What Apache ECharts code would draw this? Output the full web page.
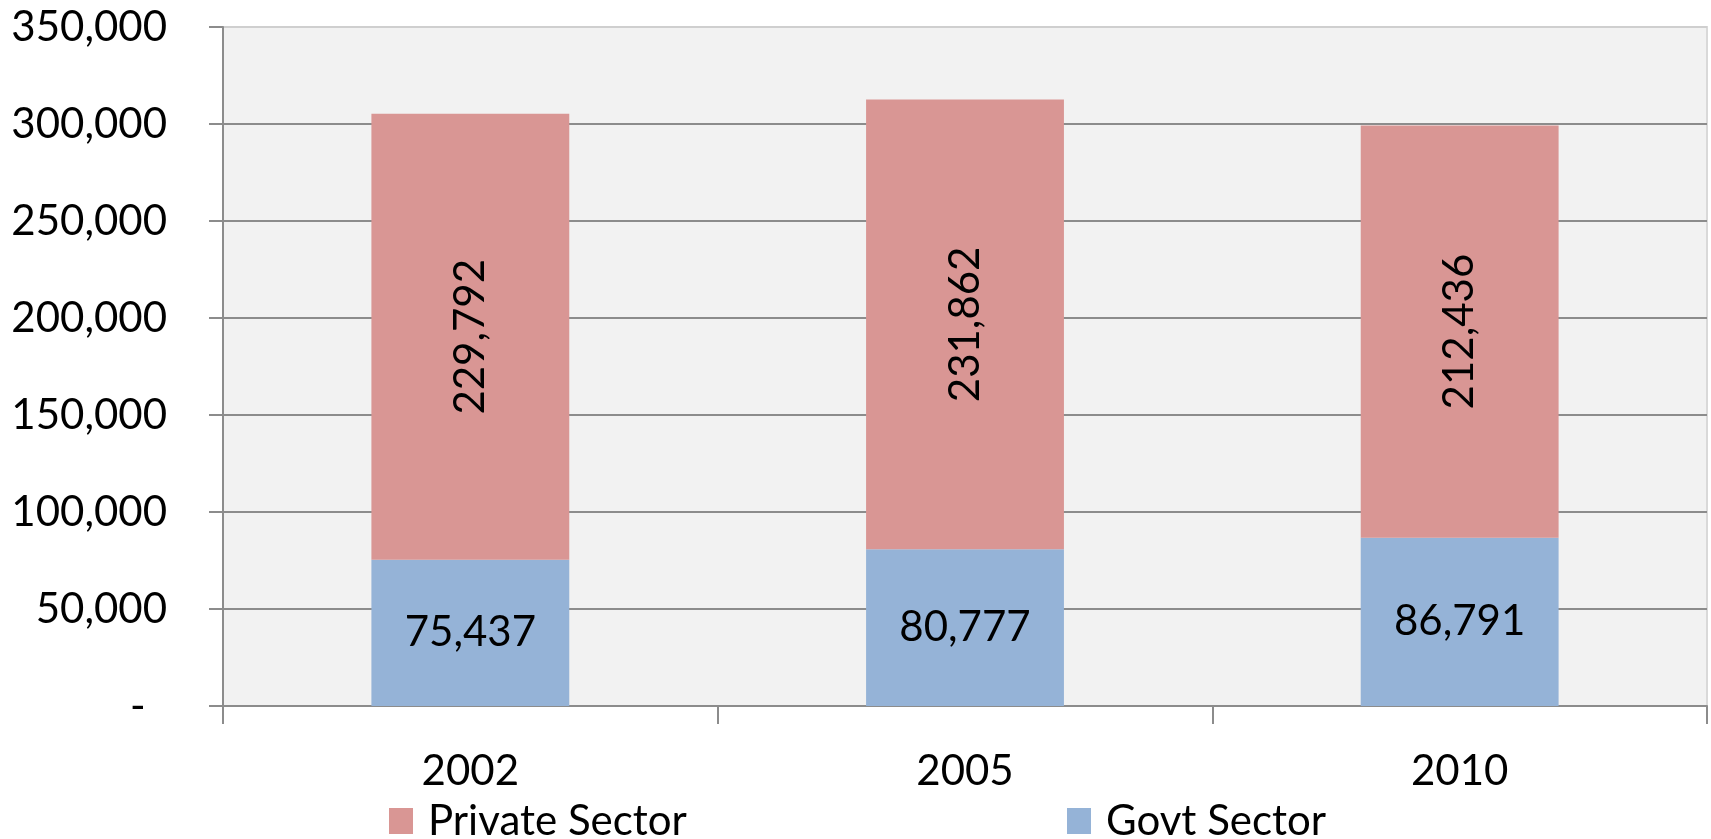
<!DOCTYPE html>
<html>
<head>
<meta charset="utf-8">
<script src="https://cdn.jsdelivr.net/npm/echarts@6/dist/echarts.min.js"></script>
<style>
  html, body { margin: 0; padding: 0; background: #fff; }
  #main { width: 1711px; height: 839px; }
</style>
</head>
<body>
<div id="main"></div>
<script>
var years = ["2002", "2005", "2010"];
var govtSector = [75437, 80777, 86791];
var privateSector = [229792, 231862, 212436];
var yTicks = [0, 50000, 100000, 150000, 200000, 250000, 300000, 350000];

var chartDom = document.getElementById("main");
var myChart = echarts.init(chartDom);
var font = "Lato";
var gridGray = "#8c8c8c";

function fmt(v) {
  return v.toString().replace(/\B(?=(\d{3})+(?!\d))/g, ",");
}

var option = {
  animation: false,
  textStyle: { fontFamily: font, color: "#000" },
  grid: {
    left: 223,
    right: 4,
    top: 27,
    bottom: 133,
    show: true,
    backgroundColor: "#f2f2f2",
    borderColor: "#d9d9d9",
    borderWidth: 2,
  },
  legend: [
    {
      data: ["Private Sector"],
      left: 384,
      top: 795,
      itemWidth: 24,
      itemHeight: 26,
      icon: "rect",
      textStyle: { fontFamily: font, fontSize: 42, color: "#000", padding: [0, 0, 0, 10] },
    },
    {
      data: ["Govt Sector"],
      left: 1062,
      top: 795,
      itemWidth: 24,
      itemHeight: 26,
      icon: "rect",
      textStyle: { fontFamily: font, fontSize: 42, color: "#000", padding: [0, 0, 0, 10] },
    },
  ],
  xAxis: {
    type: "category",
    data: years,
    axisLine: { lineStyle: { color: gridGray, width: 2 } },
    axisTick: { show: true, interval: 0, length: 18, lineStyle: { color: gridGray, width: 2 } },
    axisLabel: { fontFamily: font, fontSize: 42, color: "#000", margin: 44 },
  },
  yAxis: {
    type: "value",
    min: yTicks[0],
    max: yTicks[yTicks.length - 1],
    interval: yTicks[1] - yTicks[0],
    axisLine: { show: true, lineStyle: { color: gridGray, width: 2 } },
    axisTick: { show: true, length: 14, lineStyle: { color: gridGray, width: 2 } },
    splitLine: {
      lineStyle: {
        color: [gridGray, gridGray, gridGray, gridGray, gridGray, gridGray, gridGray, "#cfcfcf"],
        width: 2,
      },
    },
    axisLabel: {
      fontFamily: font,
      fontSize: 42,
      color: "#000",
      margin: 56,
      formatter: function (v) {
        return v === 0 ? "-  " : fmt(v);
      },
    },
  },
  series: [
    {
      name: "Govt Sector",
      type: "bar",
      stack: "total",
      barCategoryGap: "60%",
      itemStyle: { color: "#95b3d7" },
      label: {
        show: true,
        position: "inside",
        fontFamily: font,
        fontSize: 42,
        color: "#000",
        formatter: function (p) { return fmt(p.value); },
      },
      data: govtSector,
    },
    {
      name: "Private Sector",
      type: "bar",
      stack: "total",
      barCategoryGap: "60%",
      itemStyle: { color: "#d99694" },
      label: {
        show: true,
        position: "inside",
        rotate: 90,
        fontFamily: font,
        fontSize: 42,
        color: "#000",
        formatter: function (p) { return fmt(p.value); },
      },
      data: privateSector,
    },
  ],
};

option && myChart.setOption(option);
</script>
</body>
</html>
